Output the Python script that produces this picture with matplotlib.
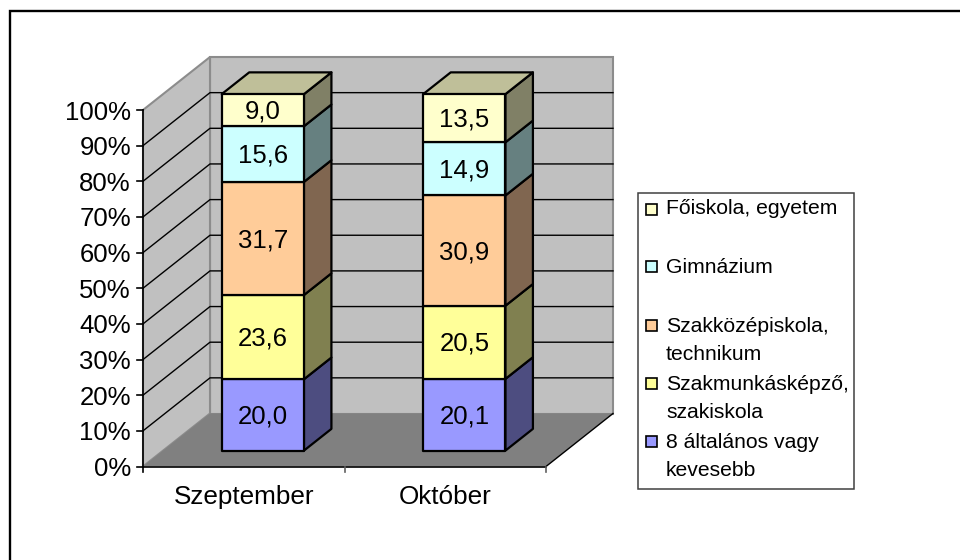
import matplotlib
matplotlib.use("Agg")
import matplotlib.pyplot as plt
from matplotlib.lines import Line2D
from matplotlib.patches import Polygon, Rectangle

plt.rcParams['font.family'] = ['Liberation Sans', 'DejaVu Sans']

categories = ["Szeptember", "Október"]
series_names = ["8 általános vagy\nkevesebb", "Szakmunkásképző,\nszakiskola",
                "Szakközépiskola,\ntechnikum", "Gimnázium", "Főiskola, egyetem"]
elementary = [20.0, 20.1]
vocational = [23.6, 20.5]
secondary = [31.7, 30.9]
grammar = [15.6, 14.9]
college = [9.0, 13.5]
value_labels = [["20,0", "20,1"], ["23,6", "20,5"], ["31,7", "30,9"],
                ["15,6", "14,9"], ["9,0", "13,5"]]
series_values = [elementary, vocational, secondary, grammar, college]
ticks = list(range(0, 101, 10))
front = ["#9999FF", "#FFFF99", "#FFCC99", "#CCFFFF", "#FFFFCC"]
side = ["#4D4D80", "#808050", "#806650", "#668080", "#808066"]
top_col = "#BFBF99"

W, H = 960, 560
fig = plt.figure(figsize=(W / 100, H / 100), dpi=100, facecolor="white")

# outer frame: only the top and left edges fall inside the picture
fig.add_artist(Line2D([10 / W, 10 / W, 1], [0, 1 - 10.5 / H, 1 - 10.5 / H], transform=fig.transFigure,
                      color="black", lw=1.7, solid_joinstyle="miter"))

L, R, B, T = 143, 546, 466.5, 110
ax = fig.add_axes([L / W, 1 - B / H, (R - L) / W, (B - T) / H])
ax.set_xlim(0, len(categories))
ax.set_ylim(0, 100)
ax.axis("off")

DX = 67 / ((R - L) / len(categories))   # depth offset in category units
DY = 53 / ((B - T) / 100)               # depth offset in percent units


def P(x, y, d=0.0):
    return (x + d * DX, y + d * DY)


def poly(pts, **kw):
    kw.setdefault("clip_on", False)
    ax.add_patch(Polygon(pts, closed=True, **kw))


n = len(categories)
wall_ec = "#8C8C8C"
poly([P(0, 0, 1), P(n, 0, 1), P(n, 100, 1), P(0, 100, 1)], fc="#C0C0C0", ec=wall_ec, lw=1.5, zorder=1)
poly([P(0, 0, 0), P(0, 0, 1), P(0, 100, 1), P(0, 100, 0)], fc="#C0C0C0", ec=wall_ec, lw=1.5, zorder=1)
poly([P(0, 0, 0), P(n, 0, 0), P(n, 0, 1), P(0, 0, 1)], fc="#808080", ec="none", zorder=1)
ax.plot(*zip(P(n, 0, 0), P(n, 0, 1)), color="black", lw=1, clip_on=False, zorder=2)

for t in ticks[1:]:
    if t < 100:
        ax.plot(*zip(P(0, t, 0), P(0, t, 1), P(n, t, 1)), color="black", lw=1, clip_on=False, zorder=2)

ax.plot([0, 0], [0, 100], color="black", lw=1.2, clip_on=False, zorder=3)
ax.plot([0, n], [0, 0], color="black", lw=1.2, clip_on=False, zorder=3)
for t in ticks:
    ax.plot([-0.03, 0], [t, t], color="black", lw=1.2, clip_on=False, zorder=3)
    ax.text(-0.06, t, f"{t}%", ha="right", va="center_baseline", fontsize=18.5, color="black")
for i in range(n + 1):
    ax.plot([i, i], [0, -1.6], color="#606060" if i else "black", lw=1.2, clip_on=False, zorder=3)

D0, D1 = 0.30, 0.71
width = 0.408
for i, cat in enumerate(categories):
    xc = i + 0.495
    x0, x1 = xc - width / 2, xc + width / 2
    base = 0.0
    total = sum(s[i] for s in series_values)
    for k, s in enumerate(series_values):
        h = s[i] / total * 100
        y0, y1 = base, base + h
        poly([P(x1, y0, D0), P(x1, y0, D1), P(x1, y1, D1), P(x1, y1, D0)],
             fc=side[k], ec="black", lw=1.6, joinstyle="round", zorder=5)
        poly([P(x0, y0, D0), P(x1, y0, D0), P(x1, y1, D0), P(x0, y1, D0)],
             fc=front[k], ec="black", lw=1.6, joinstyle="round", zorder=6)
        cx, cy = P(xc, (y0 + y1) / 2, D0)
        ax.text(cx, cy + 0.25, value_labels[k][i], ha="center", va="center_baseline",
                fontsize=18.5, color="black", zorder=8)
        base = y1
    poly([P(x0, 100, D0), P(x1, 100, D0), P(x1, 100, D1), P(x0, 100, D1)],
         fc=top_col, ec="black", lw=1.6, joinstyle="round", zorder=5)
    ax.text(i + 0.5, -7.9, cat, ha="center", va="center_baseline", fontsize=18.8, color="black")

fig.add_artist(Rectangle((638 / W, 1 - 488.5 / H), 216 / W, 296 / H, transform=fig.transFigure,
                         fc="white", ec="#404040", lw=1.1))
legend_y = [[440, 468], [382, 411], [325, 352], [265.5], [207]]
marker_y = [441, 383, 325, 267, 209]
for k, name in enumerate(series_names):
    for line, y in zip(name.split("\n"), legend_y[k]):
        fig.text(666 / W, 1 - y / H, line, ha="left", va="center_baseline", fontsize=15.2, color="black")
    fig.add_artist(Rectangle((646 / W, 1 - (marker_y[k] + 5.5) / H), 11 / W, 11 / H,
                             transform=fig.transFigure, fc=front[k], ec="black", lw=1.2))

fig.savefig("out.png", dpi=100)
